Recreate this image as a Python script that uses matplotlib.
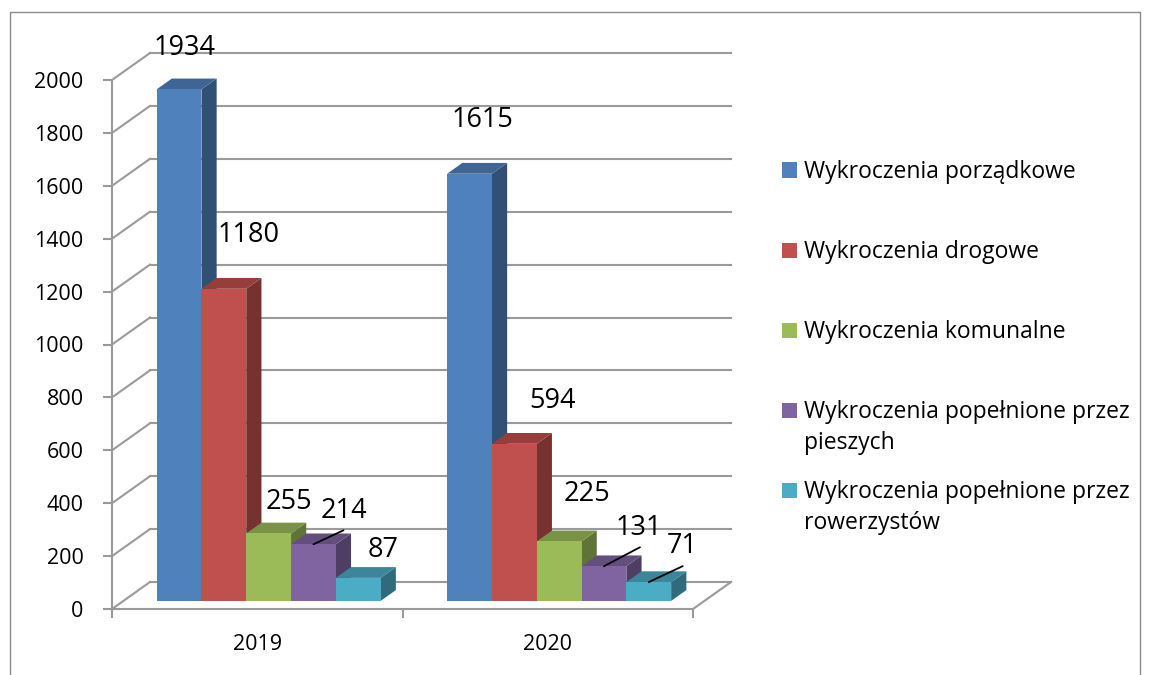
import numpy as np
import matplotlib
matplotlib.use("Agg")
import matplotlib.pyplot as plt
from matplotlib.patches import Rectangle

plt.rcParams['font.family'] = ['Open Sans', 'DejaVu Sans']

# Data
years = ['2019', '2020']
series = ['Wykroczenia porządkowe',
          'Wykroczenia drogowe',
          'Wykroczenia komunalne',
          'Wykroczenia popełnione przez\npieszych',
          'Wykroczenia popełnione przez\nrowerzystów']
porzadkowe = [1934, 1615]
drogowe = [1180, 594]
komunalne = [255, 225]
piesi = [214, 131]
rowerzysci = [87, 71]
values = [porzadkowe, drogowe, komunalne, piesi, rowerzysci]

colors = ['#4F81BD', '#C0504D', '#9BBB59', '#8064A2', '#4BACC6']
grid_col = '#9a9a9a'

# label placement (pixels from front-top centre of bar), hand-placed like the original
lab_dx = [[6, 13], [25, 38], [20, 28], [30, 35], [25, 33]]
lab_dy = [[34, 47], [47, 36], [24, 40], [26, 31], [21, 29]]
leaders = {(3, 0): (30, 14), (3, 1): (36, 19), (4, 1): (34, 16)}

W, H = 1149, 675
fig = plt.figure(figsize=(W / 100, H / 100), dpi=100)
fig.patch.set_facecolor('white')

# front plane of the 3d box
x0, y0, pw, ph = 112, 609, 581, 529
ax = fig.add_axes([x0 / W, (H - y0) / H, pw / W, ph / H])
ax.patch.set_visible(False)
ax.set_xlim(0, 2)
ax.set_ylim(0, 2000)
sx = pw / 2.0       # px per category
sy = ph / 2000.0    # px per value unit

# depth of the floor / walls
DX, DY = 38 / sx, 27 / sy
f0, f1 = 0.3, 0.7   # bars sit between these depth fractions

# walls and gridlines
for v in range(0, 2001, 200):
    ax.plot([DX, 2 + DX], [v + DY, v + DY], color=grid_col, lw=1.5, clip_on=False, zorder=1)
    ax.plot([0, DX], [v, v + DY], color=grid_col, lw=1.5, clip_on=False, zorder=1)
ax.plot([2, 2 + DX], [0, DY], color=grid_col, lw=1.5, clip_on=False, zorder=1)

# bars
w = 44.8 / sx
n = len(series)
cats = np.arange(len(years)) + 0.5
bdx, bdy = (f1 - f0) * DX, (f1 - f0) * DY
base = f0 * DY


def shade(c, k):
    r, g, b = matplotlib.colors.to_rgb(c)
    return (r * k, g * k, b * k)


for i in range(n):
    vals = np.array(values[i])
    left = cats + (i - n / 2) * w + f0 * DX
    z = 2 + i * 0.1
    for l, v in zip(left, vals):
        t = base + v
        ax.fill([l + w, l + w + bdx, l + w + bdx, l + w],
                [base, base + bdy, t + bdy, t],
                color=shade(colors[i], 0.62), lw=0, clip_on=False, zorder=z)
        ax.fill([l, l + w, l + w + bdx, l + bdx],
                [t, t, t + bdy, t + bdy],
                color=shade(colors[i], 0.78), lw=0, clip_on=False, zorder=z)
    ax.bar(left, vals, width=w, bottom=base, align='edge', color=colors[i],
           lw=0, clip_on=False, zorder=z + 0.05)
    for j, (l, v) in enumerate(zip(left, vals)):
        xy = (l + w / 2, base + v)
        ax.annotate(str(v), xy=xy, xytext=(lab_dx[i][j], lab_dy[i][j]),
                    textcoords='offset pixels', ha='center', va='baseline',
                    fontsize=19.5, color='black', zorder=10, annotation_clip=False)
        if (i, j) in leaders:
            ax.annotate('', xy=xy, xytext=leaders[(i, j)], textcoords='offset pixels',
                        arrowprops=dict(arrowstyle='-', color='black', lw=1.3,
                                        shrinkA=0, shrinkB=0), zorder=10,
                        annotation_clip=False)

# axes styling
for s in ['top', 'right']:
    ax.spines[s].set_visible(False)
for s in ['left', 'bottom']:
    ax.spines[s].set_color(grid_col)
    ax.spines[s].set_linewidth(1.5)
ax.set_yticks(range(0, 2001, 200))
ax.tick_params(axis='y', length=6.5, width=1.5, color=grid_col, pad=14,
               labelsize=15.5, labelcolor='black')
ax.set_xticks([0, 1, 2])
ax.set_xticklabels([])
ax.tick_params(axis='x', which='major', length=6.5, width=1.5, color=grid_col)
ax.set_xticks(cats, minor=True)
ax.set_xticklabels(years, minor=True)
ax.tick_params(axis='x', which='minor', length=0, pad=18, labelsize=15.5,
               labelcolor='black')

# legend (drawn by hand to match spacing of the original)
leg_x, leg_y, leg_step, line_step = 782, 170, 80, 31
for i, lab in enumerate(series):
    cy = leg_y + i * leg_step
    fig.add_artist(Rectangle((leg_x / W, (H - cy - 7.5) / H), 15 / W, 15 / H,
                             transform=fig.transFigure, color=colors[i], lw=0))
    for k, line in enumerate(lab.split('\n')):
        fig.text((leg_x + 22) / W, (H - cy - 7.7 - k * line_step) / H, line,
                 fontsize=16.5, va='baseline', ha='left', color='black')

# chart frame
fig.add_artist(plt.Line2D([10 / W, 10 / W, 1140 / W, 1140 / W],
                          [0, (H - 12) / H, (H - 12) / H, 0],
                          transform=fig.transFigure, color='#8c8c8c', lw=1))

fig.savefig('out.png', dpi=100)
